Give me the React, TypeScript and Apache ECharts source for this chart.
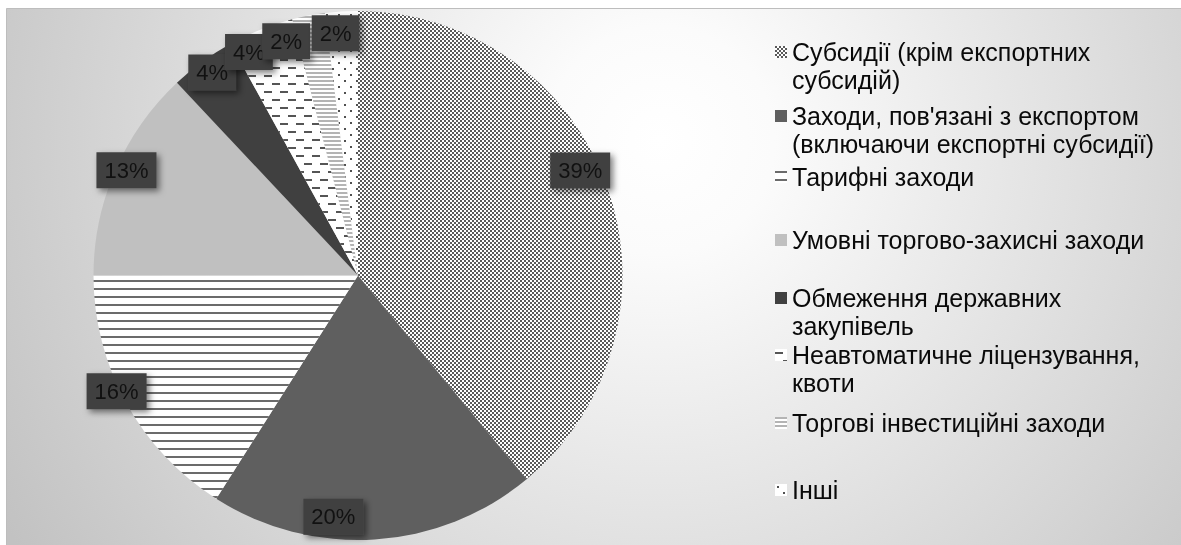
import React, { useEffect, useRef } from 'react';
import * as echarts from 'echarts';

const categories = [
  'Субсидії (крім експортних субсидій)',
  "Заходи, пов'язані з експортом (включаючи експортні субсидії)",
  'Тарифні заходи',
  'Умовні торгово-захисні заходи',
  'Обмеження державних закупівель',
  'Неавтоматичне ліцензування, квоти',
  'Торгові інвестиційні заходи',
  'Інші',
];
const legendLines = [
  ['Субсидії (крім експортних', 'субсидій)'],
  ["Заходи, пов'язані з експортом", '(включаючи експортні субсидії)'],
  ['Тарифні заходи'],
  ['Умовні торгово-захисні заходи'],
  ['Обмеження державних', 'закупівель'],
  ['Неавтоматичне ліцензування,', 'квоти'],
  ['Торгові інвестиційні заходи'],
  ['Інші'],
];
const shares = [39, 20, 16, 13, 4, 4, 2, 2];

const FONT = "'Liberation Sans', Arial, sans-serif";

// Excel "best fit" label nudges (pixels), layout only
const labelNudge: [number, number][] = [
  [-8, -22], [-40, -3], [-27, -2], [-7, -8], [-2, -5], [-19, 4], [-26, 6], [-7, 2],
];

function tile(w: number, h: number, rects: [number, number, number, number, string][]) {
  const c = document.createElement('canvas');
  c.width = w;
  c.height = h;
  const ctx = c.getContext('2d')!;
  ctx.fillStyle = '#ffffff';
  ctx.fillRect(0, 0, w, h);
  for (const [x, y, rw, rh, col] of rects) {
    ctx.fillStyle = col;
    ctx.fillRect(x, y, rw, rh);
  }
  return { image: c, repeat: 'repeat' };
}

export default function App() {
  const ref = useRef<HTMLDivElement>(null);
  useEffect(() => {
    if (!ref.current) return;
    const chart = echarts.init(ref.current, undefined, { renderer: 'svg' });

    const fills: any[] = [
      tile(4, 4, [[0, 0, 2, 2, '#5a5a5a'], [2, 2, 2, 2, '#5a5a5a']]),
      '#5f5f5f',
      tile(8, 8, [[0, 0, 8, 2, '#6b6b6b']]),
      '#c0c0c0',
      '#404040',
      tile(16, 16, [[0, 3, 8, 2, '#555555'], [8, 11, 8, 2, '#555555']]),
      tile(4, 4, [[0, 0, 4, 2, '#b4b4b4']]),
      tile(12, 12, [[2, 2, 2, 2, '#505050'], [8, 8, 2, 2, '#505050']]),
    ];

    const cx = 358;
    const cy = 275.5;
    const R = 264.5;
    const lr = R * 0.925;
    const total = shares.reduce((a, b) => a + b, 0);
    const lx: number[] = [];
    const ly: number[] = [];
    let cum = 0;
    shares.forEach((v, i) => {
      const mid = ((cum + v / 2) / total) * Math.PI * 2;
      lx.push(cx + lr * Math.sin(mid) + labelNudge[i][0]);
      ly.push(cy - lr * Math.cos(mid) + labelNudge[i][1]);
      cum += v;
    });

    const iconCenters = [52, 116, 177, 240, 298, 355, 423, 490];
    const LH = 28;
    const ICON = 12;
    const legendLeft = 775;

    const option: any = {
      animation: false,
      graphic: [
        {
          type: 'rect',
          z: -10,
          silent: true,
          shape: { x: 6.5, y: 8.5, width: 1250, height: 600 },
          style: {
            fill: {
              type: 'radial',
              x: 660,
              y: 140,
              r: 760,
              global: true,
              colorStops: [
                { offset: 0, color: '#ffffff' },
                { offset: 0.15, color: '#fbfbfb' },
                { offset: 1, color: '#c2c2c2' },
              ],
            },
            stroke: '#bdbdbd',
            lineWidth: 1,
          },
        },
      ],
      legend: categories.map((name, i) => {
        const n = legendLines[i].length;
        // icon box tall enough that the text block's first line is level with the square
        const H = n > 1 ? ICON + LH * (n - 1) : ICON;
        const icon =
          n > 1 ? `path://M0,0L${ICON},0L${ICON},${ICON}L0,${ICON}ZM0,${H}` : 'rect';
        const textTop = H / 2 - (LH * n) / 2;
        const boxTop = Math.min(0, textTop);
        return {
          orient: 'vertical',
          left: legendLeft,
          top: iconCenters[i] - ICON / 2 + boxTop,
          padding: 0,
          itemWidth: ICON,
          itemHeight: H,
          itemGap: 0,
          selectedMode: false,
          icon,
          data: [name],
          formatter: () => legendLines[i].join('\n'),
          textStyle: {
            fontFamily: FONT,
            fontSize: 25,
            lineHeight: LH,
            color: '#0a0a0a',
          },
        };
      }),
      series: [
        {
          type: 'pie',
          center: [cx, cy],
          radius: R,
          startAngle: 90,
          clockwise: true,
          avoidLabelOverlap: false,
          emphasis: { disabled: true },
          data: categories.map((name, i) => ({
            name,
            value: shares[i],
            itemStyle: { color: fills[i] },
          })),
          itemStyle: { borderWidth: 0 },
          label: {
            show: true,
            position: 'inside',
            formatter: '{c}%',
            fontFamily: FONT,
            fontSize: 22,
            color: '#111111',
            backgroundColor: '#414141',
            padding: [8, 8, 6, 8],
            shadowColor: 'rgba(0,0,0,0.5)',
            shadowBlur: 6,
            shadowOffsetX: 3,
            shadowOffsetY: 3,
          },
          labelLine: { show: false },
          labelLayout: (p: any) => ({
            x: lx[p.dataIndex],
            y: ly[p.dataIndex],
            align: 'center',
            verticalAlign: 'middle',
            hideOverlap: false,
          }),
        },
      ],
    };
    chart.setOption(option);
    return () => chart.dispose();
  }, []);
  return (
    <div
      ref={ref}
      style={{ position: 'fixed', left: 0, top: 0, width: 1181, height: 545 }}
    />
  );
}
